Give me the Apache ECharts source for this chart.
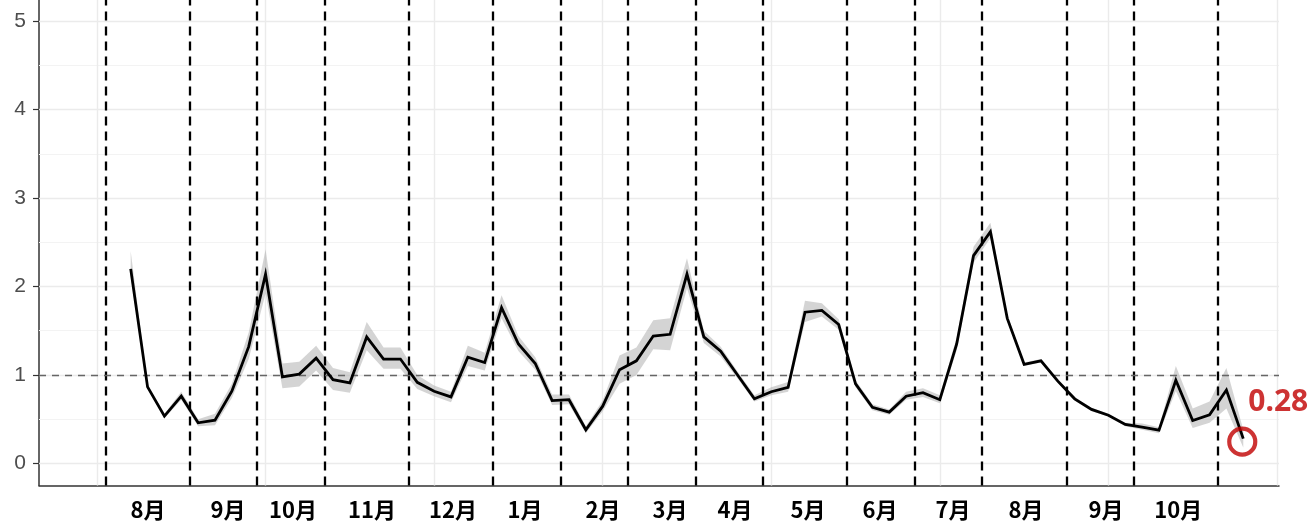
<!DOCTYPE html>
<html><head><meta charset="utf-8">
<script src="https://cdn.jsdelivr.net/npm/echarts@6/dist/echarts.min.js"></script>
<style>html,body{margin:0;padding:0;background:#fff}#c{width:1312px;height:525px}</style>
</head><body><div id="c"></div>
<script>
// weekly estimates (week index = array index)
const rt = [2.20,0.865,0.534,0.76,0.459,0.489,0.816,1.32,2.14,0.977,1.01,1.19,0.947,0.91,1.43,1.18,1.18,
  0.917,0.816,0.752,1.20,1.14,1.76,1.35,1.13,0.71,0.72,0.38,0.647,1.06,1.16,1.44,1.46,
  2.14,1.43,1.27,1.00,0.73,0.81,0.86,1.71,1.73,1.57,0.90,0.635,0.58,0.76,0.80,0.72,
  1.35,2.35,2.62,1.64,1.12,1.16,0.93,0.73,0.61,0.545,0.44,0.41,0.376,0.94,0.485,0.55,0.83,0.28];
const rtLower = [2.12,0.84,0.51,0.72,0.42,0.43,0.74,1.18,1.92,0.85,0.87,1.05,0.83,0.80,1.28,1.07,1.07,
  0.84,0.76,0.69,1.10,1.05,1.64,1.27,1.06,0.66,0.67,0.34,0.59,0.90,1.00,1.29,1.28,
  1.98,1.36,1.21,0.96,0.70,0.77,0.81,1.60,1.66,1.51,0.86,0.60,0.55,0.72,0.75,0.68,
  1.28,2.27,2.55,1.61,1.10,1.14,0.91,0.71,0.59,0.53,0.42,0.38,0.34,0.82,0.40,0.46,0.62,0.18];
const rtUpper = [2.40,0.89,0.56,0.81,0.50,0.56,0.90,1.48,2.42,1.13,1.15,1.33,1.08,1.03,1.60,1.31,1.31,
  1.00,0.88,0.81,1.33,1.25,1.90,1.44,1.20,0.78,0.78,0.42,0.71,1.22,1.31,1.62,1.64,
  2.32,1.50,1.32,1.04,0.77,0.86,0.92,1.84,1.81,1.63,0.94,0.67,0.61,0.81,0.85,0.77,
  1.42,2.45,2.72,1.68,1.14,1.18,0.95,0.75,0.63,0.56,0.46,0.45,0.41,1.10,0.62,0.70,1.08,0.38];
const monthNames = ['8月','9月','10月','11月','12月','1月','2月','3月','4月','5月','6月','7月','8月','9月','10月'];
const monthLabelWeek = [1.03,5.77,9.63,14.31,19.12,23.39,28.02,31.99,35.85,40.18,44.45,48.78,53.11,57.86,62.14];
const monthStartWeek = [-1.5,3.5,7.5,11.5,16.5,21.5,25.5,29.5,33.5,37.5,42.5,46.5,50.5,55.5,59.5,64.5];
const xBreaks = [-2,8,18,28,38,48,58,68];
const yMajor = [0,1,2,3,4,5];
const yMinor = [0.5,1.5,2.5,3.5,4.5];
const refLevel = 1;

const chart = echarts.init(document.getElementById('c'), null, {renderer:'canvas'});
const lineData = rt.map((v,i)=>[i,v]);
const last = rt.length-1;

const gridLines = [].concat(
  yMinor.map(v=>({yAxis:v, lineStyle:{color:'#f3f3f3', width:1, type:'solid'}})),
  yMajor.map(v=>({yAxis:v, lineStyle:{color:'#ebebeb', width:1.4, type:'solid'}})),
  xBreaks.map(v=>({xAxis:v, lineStyle:{color:'#ebebeb', width:1.4, type:'solid'}}))
);
const dashLines = [].concat(
  monthStartWeek.map(v=>({xAxis:v, lineStyle:{color:'#000', width:2.3, type:[9,6]}})),
  [{yAxis:refLevel, lineStyle:{color:'#666', width:1.4, type:[7,6]}}]
);

chart.setOption({
  animation:false,
  grid:{left:39, right:33, top:0, bottom:39.5, containLabel:false},
  xAxis:{type:'value', min:-5.44, max:68.12,
    axisLine:{show:true, onZero:false, lineStyle:{color:'#333', width:1.5}},
    axisTick:{show:false}, splitLine:{show:false},
    axisLabel:{customValues:monthLabelWeek, color:'#000', fontWeight:'bold', fontSize:22,
      fontFamily:'Noto Sans CJK JP', margin:13,
      formatter:function(v){let b=0,d=1e9;monthLabelWeek.forEach((m,k)=>{if(Math.abs(m-v)<d){d=Math.abs(m-v);b=k;}});return monthNames[b];}}
  },
  yAxis:{type:'value', min:-0.25, max:5.24,
    axisLine:{show:true, onZero:false, lineStyle:{color:'#333', width:1.5}},
    axisTick:{show:true, customValues:yMajor, length:6, lineStyle:{color:'#333', width:1.2}},
    axisLabel:{customValues:yMajor, color:'#4d4d4d', fontSize:21, fontFamily:'Liberation Sans', margin:13},
    splitLine:{show:false}
  },
  series:[
    {type:'line', data:[], z:1, silent:true,
      markLine:{silent:true, symbol:'none', label:{show:false}, z:1, animation:false, data:gridLines}},
    {type:'custom', z:2, silent:true,
      data: rt.map((v,i)=>[i, rtLower[i], rtUpper[i]]),
      encode:{x:0, y:[1,2]},
      renderItem:function(params, api){
        if (params.dataIndex !== 0) return null;
        const pts=[];
        for (let i=0;i<rt.length;i++) pts.push(api.coord([i, rtUpper[i]]));
        for (let i=rt.length-1;i>=0;i--) pts.push(api.coord([i, rtLower[i]]));
        return {type:'polygon', shape:{points:pts}, style:{fill:'rgba(170,170,170,0.5)'}};
      }
    },
    {type:'line', data:lineData, z:4, symbol:'none', silent:true,
      lineStyle:{color:'#000', width:2.8, join:'miter'},
      markLine:{silent:true, symbol:'none', label:{show:false}, z:3, animation:false, data:dashLines}},
    {type:'scatter', z:6, silent:true, data:[[last, rt[last]]],
      symbol:'circle', symbolSize:26, symbolOffset:[-1,3],
      itemStyle:{color:'rgba(0,0,0,0)', borderColor:'#c00000', borderWidth:4.2},
      label:{show:true, position:'inside', offset:[36,-39], color:'#c00000', fontSize:30, fontWeight:'bold',
        fontFamily:'Noto Sans', formatter:p=>p.value[1].toFixed(2)}}
  ]
});
</script></body></html>
